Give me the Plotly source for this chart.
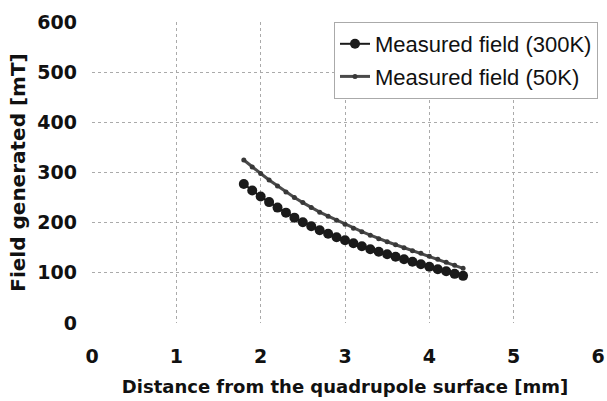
import plotly.graph_objects as go

distance_mm = [1.8, 1.9, 2.0, 2.1, 2.2, 2.3, 2.4, 2.5, 2.6, 2.7, 2.8, 2.9, 3.0,
               3.1, 3.2, 3.3, 3.4, 3.5, 3.6, 3.7, 3.8, 3.9, 4.0, 4.1, 4.2, 4.3, 4.4]
field_300K = [277, 264, 252, 241, 230, 220, 210, 201, 193, 185, 178, 171, 165,
              159, 153, 147, 142, 137, 132, 127, 122, 117, 112, 107, 103, 98, 94]
field_50K = [325, 311, 298, 285, 273, 261, 250, 240, 230, 221, 213, 205, 197,
             189, 182, 175, 168, 162, 156, 150, 144, 139, 133, 127, 121, 115, 109]
x_ticks = [0, 1, 2, 3, 4, 5, 6]
y_ticks = [0, 100, 200, 300, 400, 500, 600]

fig = go.Figure()
fig.add_trace(go.Scatter(
    x=distance_mm, y=field_300K, mode="lines+markers",
    name="Measured field (300K)", legendgroup="a",
    line=dict(color="#1a1a1a", width=2),
    marker=dict(color="#1a1a1a", size=10, symbol="circle"),
))
fig.add_trace(go.Scatter(
    x=distance_mm, y=field_50K, mode="lines+markers",
    name="Measured field (50K)", legendgroup="b",
    line=dict(color="#4a4a4a", width=3),
    marker=dict(color="#383838", size=5, symbol="circle"),
))

bold_font = "DejaVu Sans, Liberation Sans, Arial, sans-serif"
tick_font = dict(family=bold_font, size=19, color="#111", weight="bold")
fig.update_layout(
    width=607, height=401,
    margin=dict(l=92, r=9, t=22, b=78),
    paper_bgcolor="white", plot_bgcolor="white",
    font=dict(family="Liberation Sans, Arial, sans-serif", size=15, color="#111"),
    legend=dict(
        x=1.0, y=1.0, xanchor="right", yanchor="top",
        bordercolor="#aaa", borderwidth=1, bgcolor="white",
        font=dict(family="Liberation Sans, Arial, sans-serif", size=22, color="#111"),
        tracegroupgap=1,
    ),
    showlegend=True,
)
fig.update_xaxes(
    range=[0, 6], tickvals=x_ticks, ticktext=[str(v) for v in x_ticks],
    showgrid=True, gridcolor="#aaa", griddash="dot", gridwidth=1,
    zeroline=False, showline=False, automargin=False,
    tickfont=tick_font, ticklabeloverflow="allow",
    title=dict(text="Distance from the quadrupole surface [mm]",
               font=dict(family=bold_font, size=18, color="#111", weight="bold"), standoff=14),
    ticklabelstandoff=20,
)
fig.update_yaxes(
    range=[0, 600], tickvals=y_ticks, ticktext=[str(v) for v in y_ticks],
    showgrid=True, gridcolor="#aaa", griddash="dot", gridwidth=1,
    zeroline=False, showline=False, automargin=False,
    tickfont=tick_font, ticklabeloverflow="allow",
    title=dict(text="Field generated [mT]",
               font=dict(family=bold_font, size=20, color="#111", weight="bold"), standoff=6),
    ticklabelstandoff=14,
)

# remove the default page margin so the 607x401 figure fills the window exactly
fig.write_html("out.html",
               config={"displayModeBar": False},
               post_script="document.body.style.margin='0';document.body.style.overflow='hidden';")
